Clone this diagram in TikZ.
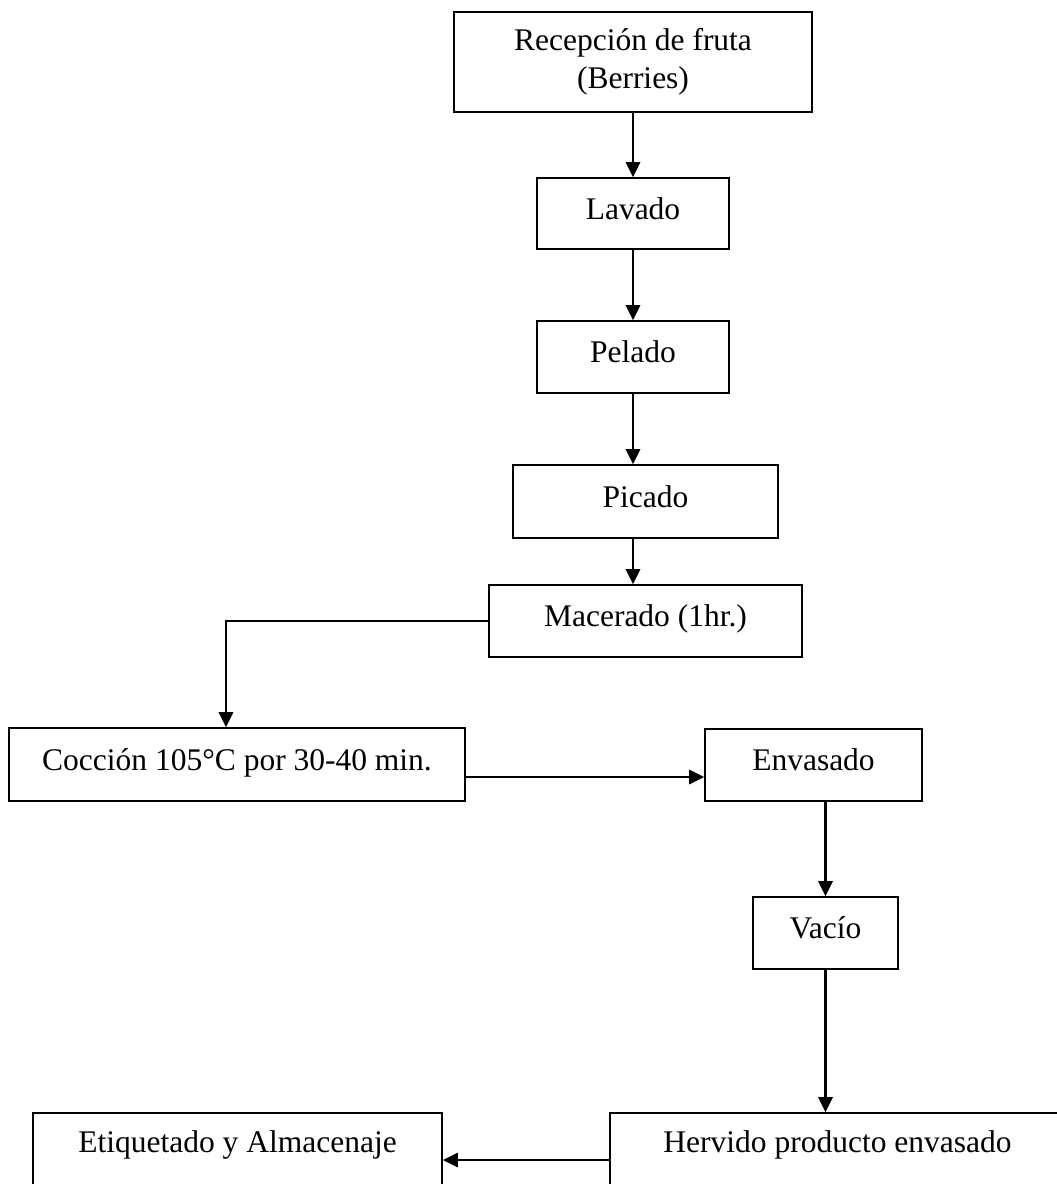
\documentclass[tikz,border=0pt]{standalone}
\usepackage{fontspec}
\setmainfont{Liberation Serif}
\usetikzlibrary{arrows.meta}

\tikzset{
  stage/.style={draw=black, line width=1.6pt, rectangle, inner sep=0pt,
    font=\fontsize{31.5}{38}\selectfont},
  oneline/.style={stage, text height=22pt, text depth=11pt},
  labeltext/.style={inner sep=0pt, anchor=base, font=\fontsize{31.5}{38}\selectfont},
  flow/.style={line width=2.8pt, -{Triangle[width=14pt,length=15pt]}}
}

\begin{document}
\begin{tikzpicture}[x=1pt,y=-1pt]
  \useasboundingbox (0,0) rectangle (1057,1184);
  \fill[white] (0,0) rectangle (1057,1184);
  \clip (0,0) rectangle (1057,1184);

  % process stages
  \node[stage, align=center, minimum width=358pt, minimum height=100pt]
    (rec) at (633,62) {Recepción de fruta\\(Berries)};
  \node[oneline, minimum width=192pt, minimum height=71pt] (lav) at (633,213.5) {Lavado};
  \node[oneline, minimum width=192pt, minimum height=72pt] (pel) at (633,357) {Pelado};
  \node[oneline, minimum width=265pt, minimum height=73pt] (pic) at (645.5,501.5) {Picado};
  \node[oneline, minimum width=313pt, minimum height=72pt] (mac) at (645.5,621) {Macerado (1hr.)};
  \node[oneline, minimum width=456pt, minimum height=73pt] (coc) at (237,764.5) {Cocción 105°C por 30-40 min.};
  \node[oneline, minimum width=217pt, minimum height=72pt] (env) at (813.5,765) {Envasado};
  \node[oneline, minimum width=145pt, minimum height=72pt] (vac) at (825.5,933) {Vacío};

  % last two stages run past the lower edge
  \node[stage, minimum width=455pt, minimum height=94pt] (her) at (837.5,1160) {};
  \node[labeltext] (hertxt) at (837.5,1152) {Hervido producto envasado};
  \node[stage, minimum width=409pt, minimum height=94pt] (eti) at (237.5,1160) {};
  \node[labeltext] (etitxt) at (237.5,1152) {Etiquetado y Almacenaje};

  % connectors
  \draw[flow] (rec.south) -- (lav.north);
  \draw[flow] (lav.south) -- (pel.north);
  \draw[flow] (pel.south) -- (pel.south |- pic.north);
  \draw[flow] (pel.south |- pic.south) -- (pel.south |- mac.north);
  \draw[flow] (mac.west) -| (coc.north -| 226,0);
  \draw[flow] ([yshift=-12.5pt]coc.east) -- ([yshift=-12.5pt]coc.east -| env.west);
  \draw[flow] (vac.north |- env.south) -- (vac.north);
  \draw[flow] (vac.south) -- (vac.south |- her.north);
  \draw[flow] (her.west) -- (eti.east);
\end{tikzpicture}
\end{document}
